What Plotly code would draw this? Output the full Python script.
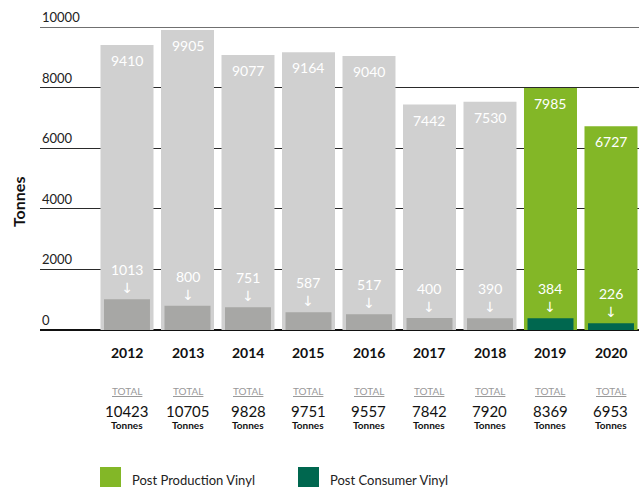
import plotly.graph_objects as go

years = ["2012", "2013", "2014", "2015", "2016", "2017", "2018", "2019", "2020"]
post_production = [9410, 9905, 9077, 9164, 9040, 7442, 7530, 7985, 6727]
post_consumer = [1013, 800, 751, 587, 517, 400, 390, 384, 226]
totals = [10423, 10705, 9828, 9751, 9557, 7842, 7920, 8369, 6953]
y_ticks = [0, 2000, 4000, 6000, 8000, 10000]

GREY_LIGHT = "#d0d0d0"
GREY_DARK = "#a7a7a5"
GREEN = "#83b727"
DARK_GREEN = "#00674f"
FONT = "Lato, 'Open Sans', sans-serif"

n_old = 7  # years drawn in grey
xs = list(range(len(years)))

fig = go.Figure()
# light (post production) bars
fig.add_trace(go.Bar(x=xs[:n_old], y=post_production[:n_old], width=0.876,
                     marker=dict(color=GREY_LIGHT, line=dict(width=0)),
                     showlegend=False, hoverinfo="skip"))
fig.add_trace(go.Bar(x=xs[n_old:], y=post_production[n_old:], width=0.876,
                     marker=dict(color=GREEN, line=dict(width=0)),
                     name="Post Production Vinyl", showlegend=False))
# dark (post consumer) bars
fig.add_trace(go.Bar(x=xs[:n_old], y=post_consumer[:n_old], width=0.76,
                     marker=dict(color=GREY_DARK, line=dict(width=0)),
                     showlegend=False, hoverinfo="skip"))
fig.add_trace(go.Bar(x=xs[n_old:], y=post_consumer[n_old:], width=0.76,
                     marker=dict(color=DARK_GREEN, line=dict(width=0)),
                     name="Post Consumer Vinyl", showlegend=False))

ann = []
# value labels
for i, (p, c) in enumerate(zip(post_production, post_consumer)):
    ann.append(dict(x=i, y=p, xref="x", yref="y", text=str(p), showarrow=False,
                    yanchor="top", yshift=-5, font=dict(size=14, color="white", family=FONT)))
    ann.append(dict(x=i, y=c, xref="x", yref="y",
                    text=f"{c}<br><span style='font-family:DejaVu Sans'>↓</span>",
                    showarrow=False, yanchor="bottom", yshift=1,
                    font=dict(size=14, color="white", family=FONT)))

# year labels and totals below the chart
for i, (yr, t) in enumerate(zip(years, totals)):
    ann.append(dict(x=i, y=-0.073, xref="x", yref="paper", text=f"<b>{yr}</b>", showarrow=False,
                    yanchor="middle", font=dict(size=14, color="#111", family=FONT)))
    ann.append(dict(x=i, y=-0.202, xref="x", yref="paper", text="<u>TOTAL</u>", showarrow=False,
                    yanchor="middle", font=dict(size=10, color="#999", family=FONT)))
    ann.append(dict(x=i, y=-0.267, xref="x", yref="paper", text=str(t), showarrow=False,
                    yanchor="middle", font=dict(size=15, color="#111", family=FONT)))
    ann.append(dict(x=i, y=-0.314, xref="x", yref="paper", text="<b>Tonnes</b>", showarrow=False,
                    yanchor="middle", font=dict(size=10, color="#111", family=FONT)))

# y tick labels sitting above the grid lines
for v in y_ticks:
    ann.append(dict(x=0, y=v, xref="paper", yref="y", text=str(v), showarrow=False,
                    xanchor="left", yanchor="bottom", yshift=0,
                    font=dict(size=13, color="#222", family=FONT)))

ann.append(dict(x=-0.037, y=0.425, xref="paper", yref="paper", text="<b>Tonnes</b>",
                showarrow=False, textangle=-90, xanchor="center", yanchor="middle",
                font=dict(size=16, color="#111", family=FONT)))

# legend
shapes = []
legend_items = [("Post Production Vinyl", GREEN, 100), ("Post Consumer Vinyl", DARK_GREEN, 298)]
for label, col, px in legend_items:
    x0 = (px - 40) / 599
    x1 = (px + 21 - 40) / 599
    shapes.append(dict(type="rect", xref="paper", yref="paper", x0=x0, x1=x1,
                       y0=(330 - 490) / 303, y1=(330 - 467) / 303,
                       fillcolor=col, line=dict(width=0)))
    ann.append(dict(x=(px + 30 - 40) / 599, y=(330 - 480) / 303, xref="paper", yref="paper",
                    text=label, showarrow=False, xanchor="left", yanchor="middle",
                    font=dict(size=13, color="#222", family=FONT)))

# top grid line is lighter grey
shapes.append(dict(type="line", xref="paper", yref="y", x0=0, x1=1, y0=10000, y1=10000,
                   line=dict(color="#707070", width=2), layer="below"))

fig.update_layout(
    width=639, height=487,
    margin=dict(l=40, r=0, t=27, b=157),
    barmode="overlay",
    plot_bgcolor="white", paper_bgcolor="white",
    xaxis=dict(range=[-1.438, 8.463], showticklabels=False, showgrid=False, zeroline=False,
               showline=False, fixedrange=True),
    yaxis=dict(range=[0, 10000], tickvals=y_ticks[:-1], showticklabels=False,
               showgrid=True, gridcolor="#2a2a2a", gridwidth=1.2,
               zeroline=True, zerolinecolor="#111", zerolinewidth=2, fixedrange=True),
    annotations=ann,
    shapes=shapes,
    showlegend=False,
    font=dict(family=FONT),
)

fig.write_html("out.html", config={"displayModeBar": False},
               post_script="document.body.style.margin='0';")
